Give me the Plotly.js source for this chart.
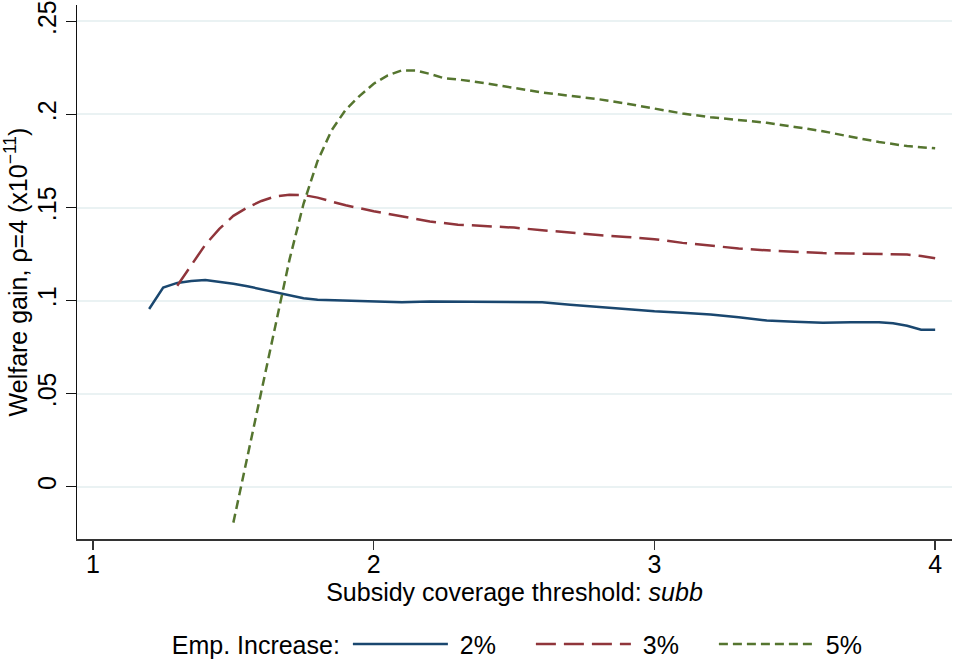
<!DOCTYPE html>
<html>
<head>
<meta charset="utf-8">
<script src="https://cdn.plot.ly/plotly-3.0.1.min.js"></script>
<style>html,body{margin:0;padding:0;background:#fff;}#chart{width:953px;height:662px;}</style>
</head>
<body>
<div id="chart"></div>
<script>
var x2 = [1.2,1.25,1.3,1.35,1.4,1.45,1.5,1.55,1.6,1.65,1.7,1.75,1.8,1.9,2.0,2.1,2.2,2.3,2.4,2.5,2.6,2.7,2.8,2.9,3.0,3.1,3.2,3.3,3.4,3.5,3.6,3.7,3.8,3.85,3.9,3.95,4.0];
var y2 = [0.0955,0.107,0.1095,0.1105,0.111,0.1102,0.109,0.1077,0.106,0.1043,0.1025,0.1012,0.1004,0.1000,0.0992,0.0991,0.0995,0.0994,0.0993,0.0994,0.0991,0.0978,0.0966,0.0955,0.0942,0.0935,0.0925,0.0910,0.0893,0.0886,0.0881,0.0883,0.0883,0.0878,0.0865,0.0843,0.0843];

var x3 = [1.3,1.35,1.4,1.45,1.5,1.55,1.6,1.65,1.7,1.75,1.8,1.85,1.9,2.0,2.1,2.2,2.3,2.4,2.5,2.6,2.7,2.8,2.9,3.0,3.1,3.2,3.3,3.4,3.5,3.6,3.7,3.8,3.9,3.95,4.0];
var y3 = [0.108,0.119,0.130,0.1385,0.1455,0.150,0.1535,0.156,0.1568,0.1567,0.1553,0.1532,0.1512,0.148,0.1452,0.1425,0.1408,0.1400,0.1392,0.1378,0.1364,0.1352,0.1342,0.1330,0.1310,0.1295,0.1280,0.1270,0.1262,0.1255,0.1253,0.1251,0.1247,0.1240,0.1227];

var x5 = [1.5,1.55,1.6,1.65,1.7,1.75,1.8,1.85,1.9,1.95,2.0,2.05,2.1,2.15,2.2,2.25,2.3,2.4,2.5,2.6,2.7,2.8,2.9,3.0,3.1,3.2,3.3,3.4,3.5,3.6,3.7,3.8,3.9,4.0];
var y5 = [-0.0193,0.0165,0.052,0.088,0.122,0.152,0.175,0.1915,0.2025,0.210,0.2165,0.2210,0.2237,0.2236,0.2218,0.2195,0.2188,0.2167,0.2142,0.2118,0.2100,0.2082,0.2058,0.2030,0.2005,0.1985,0.1970,0.1955,0.1933,0.1910,0.1880,0.1852,0.1830,0.1818];

var seriesNames = ['2%','3%','5%'];
var xTickVals = [1,2,3,4];
var xTickText = ['1','2','3','4'];
var yTickVals = [0,0.05,0.1,0.15,0.2,0.25];
var yTickText = ['0','.05','.1','.15','.2','.25'];

var FONT = 'Liberation Sans, Arial, Helvetica, sans-serif';
var FS = 25;

var traces = [
  {x:x2, y:y2, name:' ' + seriesNames[0], mode:'lines', line:{color:'#1a476f', width:2.5}},
  {x:x3, y:y3, name:' ' + seriesNames[1], mode:'lines', line:{color:'#90353b', width:2.5, dash:'20px,8px'}},
  {x:x5, y:y5, name:' ' + seriesNames[2], mode:'lines', line:{color:'#55752f', width:2.5, dash:'9px,5px'}}
];

var layout = {
  width:953, height:662,
  margin:{l:77, r:1, t:5, b:123, autoexpand:false},
  paper_bgcolor:'#fff', plot_bgcolor:'#fff',
  font:{family:FONT, size:FS, color:'#000'},
  showlegend:true,
  legend:{
    orientation:'h', x:0.106, xanchor:'left', yref:'container', y:0.027, yanchor:'middle',
    title:{text:'Emp. Increase:', side:'left', font:{size:FS}},
    font:{size:FS}, itemwidth:95, entrywidthmode:'pixels', entrywidth:73,
    bgcolor:'rgba(0,0,0,0)'
  },
  xaxis:{
    range:[0.943,4.06], tickvals:xTickVals, ticktext:xTickText,
    showgrid:false, zeroline:false, showline:true, linecolor:'#333', linewidth:1.5,
    ticks:'outside', ticklen:9, tickwidth:1.5, tickcolor:'#333', ticklabelstandoff:-7,
    tickfont:{size:FS}, title:{text:'Subsidy coverage threshold: <i>subb</i>', font:{size:FS}, standoff:2}
  },
  yaxis:{
    range:[-0.0281,0.2588], tickvals:yTickVals, ticktext:yTickText,
    showgrid:true, gridcolor:'#eaf2f3', gridwidth:2, zeroline:false,
    showline:true, linecolor:'#111', linewidth:1.5,
    ticks:'outside', ticklen:10, tickwidth:1.5, tickcolor:'#111',
    tickangle:-90, tickfont:{size:FS},
    title:{text:'Welfare gain, ρ=4 (x10<sup>−11</sup>)', font:{size:FS}, standoff:6}
  }
};

Plotly.newPlot('chart', traces, layout, {displayModeBar:false, staticPlot:true});
</script>
</body>
</html>
